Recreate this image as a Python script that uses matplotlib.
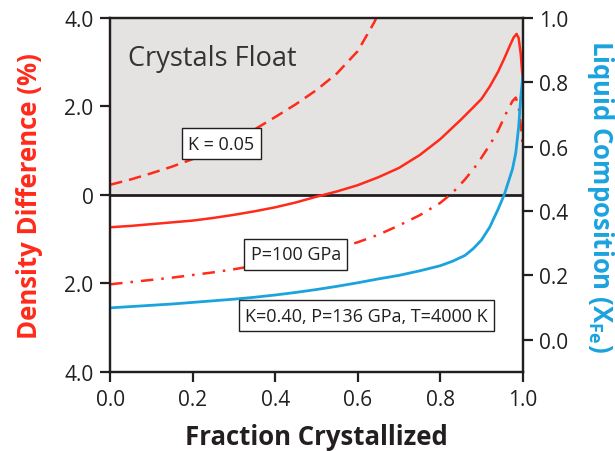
import matplotlib
matplotlib.use("Agg")
import matplotlib.pyplot as plt

plt.rcParams['font.family'] = ['Open Sans', 'DejaVu Sans']

RED = '#ff2a1a'
BLUE = '#1ba3de'
INK = '#231f20'
GRAY = '#e5e3e1'

# fraction crystallized vs density difference (%), K = 0.05 (dashed)
k005_x = [0.0, 0.05, 0.1, 0.15, 0.2, 0.25, 0.3, 0.35, 0.4, 0.45, 0.5,
          0.55, 0.6, 0.64, 0.65]
k005_y = [0.23, 0.35, 0.49, 0.64, 0.81, 1.01, 1.23, 1.48, 1.76, 2.05, 2.37,
          2.75, 3.25, 3.9, 4.1]

# K = 0.40, P = 136 GPa, T = 4000 K (solid)
p136_x = [0.0, 0.05, 0.1, 0.15, 0.2, 0.25, 0.3, 0.35, 0.4, 0.45, 0.5, 0.55,
          0.6, 0.65, 0.7, 0.75, 0.8, 0.85, 0.88, 0.9, 0.92, 0.94, 0.955,
          0.97, 0.978, 0.985, 0.99, 0.995, 1.0]
p136_y = [-0.73, -0.70, -0.66, -0.62, -0.58, -0.52, -0.45, -0.37, -0.28,
          -0.17, -0.04, 0.08, 0.22, 0.40, 0.61, 0.90, 1.26, 1.70, 1.98, 2.17,
          2.45, 2.78, 3.08, 3.40, 3.56, 3.64, 3.55, 3.2, 2.6]

# P = 100 GPa (dash-dot)
p100_x = [0.0, 0.05, 0.1, 0.15, 0.2, 0.25, 0.3, 0.35, 0.4, 0.45, 0.5, 0.55,
          0.6, 0.65, 0.7, 0.75, 0.8, 0.83, 0.86, 0.89, 0.92, 0.94, 0.96,
          0.975, 0.983, 0.99, 0.995, 1.0]
p100_y = [-2.02, -1.97, -1.92, -1.87, -1.81, -1.75, -1.68, -1.60, -1.52,
          -1.43, -1.33, -1.21, -1.07, -0.90, -0.69, -0.46, -0.18, 0.05, 0.35,
          0.70, 1.13, 1.45, 1.85, 2.12, 2.2, 2.0, 1.6, 1.1]

# liquid composition X_Fe (right axis)
xfe_x = [0.0, 0.05, 0.1, 0.15, 0.2, 0.25, 0.3, 0.35, 0.4, 0.45, 0.5, 0.55,
         0.6, 0.65, 0.7, 0.75, 0.8, 0.83, 0.86, 0.88, 0.9, 0.92, 0.94, 0.955,
         0.965, 0.975, 0.983, 0.99, 0.995, 1.0]
xfe_y = [0.099, 0.103, 0.107, 0.111, 0.116, 0.121, 0.126, 0.132, 0.139,
         0.147, 0.156, 0.166, 0.177, 0.189, 0.200, 0.214, 0.230, 0.244, 0.262,
         0.283, 0.31, 0.35, 0.405, 0.45, 0.49, 0.53, 0.58, 0.66, 0.75, 0.82]

x_ticks = [0.0, 0.2, 0.4, 0.6, 0.8, 1.0]
left_ticks = [-4, -2, 0, 2, 4]
left_labels = ['4.0', '2.0', '0', '2.0', '4.0']
right_ticks = [0.0, 0.2, 0.4, 0.6, 0.8, 1.0]


def style_axis(ax):
    for s in ax.spines.values():
        s.set_color(INK)
        s.set_linewidth(1.6)
    ax.tick_params(direction='out', length=7, width=1.6, color=INK,
                   labelsize=15, labelcolor=INK, pad=5)


def main():
    fig = plt.figure(figsize=(6.15, 4.52), dpi=100)
    ax = fig.add_axes([0.179, 0.175, 0.671, 0.783])

    ax.axhspan(0, 4, color=GRAY, zorder=0)
    ax.axhline(0, color=INK, lw=2.0, zorder=2)

    ax.plot(k005_x, k005_y, color=RED, lw=1.8, dashes=(5, 2.8), zorder=3)
    ax.plot(p136_x, p136_y, color=RED, lw=1.8, zorder=3)
    ax.plot(p100_x, p100_y, color=RED, lw=1.8, dashes=(5, 3.2, 1, 3.2), zorder=3)

    ax.set_xlim(0, 1)
    ax.set_ylim(-4, 4)
    ax.set_xticks(x_ticks)
    ax.set_xticklabels([f'{v:.1f}' for v in x_ticks])
    ax.set_yticks(left_ticks)
    ax.set_yticklabels(left_labels)
    style_axis(ax)

    ax.set_xlabel('Fraction Crystallized', fontsize=18.5, fontweight='bold',
                  color=INK, labelpad=10)
    ax.set_ylabel('Density Difference (%)', fontsize=18.5, fontweight='bold',
                  color=RED, labelpad=15)

    ax2 = ax.twinx()
    ax2.plot(xfe_x, xfe_y, color=BLUE, lw=2.0)
    ax2.set_ylim(-0.1, 1.0)
    ax2.set_yticks(right_ticks)
    ax2.set_yticklabels([f'{v:.1f}' for v in right_ticks])
    style_axis(ax2)
    ax2.set_ylabel('Liquid Composition (X$_{\\mathregular{Fe}}$)', fontsize=18.5,
                   fontweight='bold', color=BLUE, rotation=270, labelpad=34)

    ax2.text(0.044, 3.1, 'Crystals Float', transform=ax.transData,
             fontsize=19.5, color='#333333', va='center', ha='left')

    box = dict(boxstyle='square,pad=0.35', fc='white', ec=INK, lw=1.0)
    ax2.text(0.27, 1.16, 'K = 0.05', transform=ax.transData, fontsize=13,
             ha='center', va='center', bbox=box, color=INK)
    ax2.text(0.45, -1.34, 'P=100 GPa', transform=ax.transData, fontsize=13,
             ha='center', va='center', bbox=box, color=INK)
    ax2.text(0.621, -2.73, 'K=0.40, P=136 GPa, T=4000 K', transform=ax.transData,
             fontsize=13, ha='center', va='center', bbox=box, color=INK)

    fig.savefig('out.png', dpi=100)


if __name__ == "__main__":
    main()
